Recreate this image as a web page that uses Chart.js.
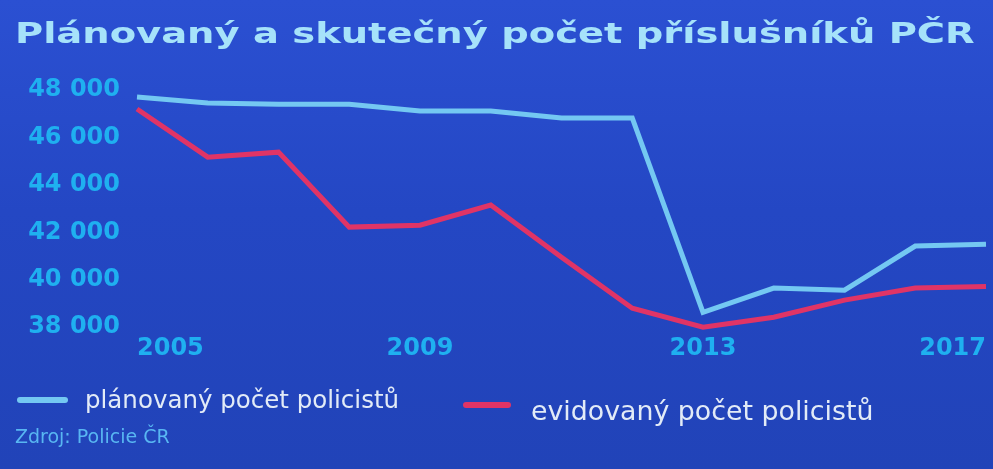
<!DOCTYPE html>
<html>
<head>
<meta charset="utf-8">
<script src="https://cdn.jsdelivr.net/npm/chart.js@4"></script>
<style>
  html, body { margin: 0; padding: 0; }
  body {
    width: 993px; height: 469px; overflow: hidden; position: relative;
    background: linear-gradient(180deg, #2b50d2 0%, #2447c4 45%, #2143b8 100%);
  }
  #wrap { position: absolute; left: 0; top: 0; width: 993px; height: 469px; }
  #title {
    position: absolute; left: 15px; top: 19px; white-space: nowrap;
    font-family: "DejaVu Sans", sans-serif; font-weight: bold; font-size: 29px; line-height: 29px;
    color: #a6e2fa; transform-origin: 0 0;
  }
  .item { position: absolute; white-space: nowrap; font-family: "DejaVu Sans", sans-serif; color: #e2ebf7; }
  .swatch { position: absolute; height: 6px; border-radius: 3px; }
  #source { position: absolute; left: 15px; top: 425px; font-family: "DejaVu Sans", sans-serif; font-size: 19px; line-height: 22px; color: #58b6f2; }
</style>
</head>
<body>
<div id="wrap"><canvas id="chart"></canvas></div>
<div id="title">Plánovaný a skutečný počet příslušníků PČR</div>
<div id="legend"></div>
<div id="source">Zdroj: Policie ČR</div>
<script>
// roky 2005-2017
const years = ["2005", "2006", "2007", "2008", "2009", "2010", "2011", "2012", "2013", "2014", "2015", "2016", "2017"];

// plánovaný počet
const planovany = [47700, 47450, 47400, 47400, 47110, 47110, 46820, 46820, 38630, 39650, 39560, 41420, 41500];

// evidovaný počet
const evidovany = [47200, 45170, 45380, 42220, 42300, 43150, 40950, 38800, 38000, 38420, 39140, 39650, 39720];

const seriesNames = ["plánovaný počet policistů", "evidovaný počet policistů"];
const seriesColors = ["#74c8f2", "#e03466"];

const yTicks = [38000, 40000, 42000, 44000, 46000, 48000];

function fmt(v) {
    // 48000 -> "48 000"
    return String(v).replace(/\B(?=(\d{3})+(?!\d))/g, " ");
}

const ctx = document.getElementById("chart").getContext("2d");
const chart = new Chart(ctx, {
    type: "line",
    data: {
        labels: years,
        datasets: [
            {
                label: seriesNames[0],
                data: planovany,
                borderColor: seriesColors[0],
                borderWidth: 5,
                pointRadius: 0,
                tension: 0,
                clip: false,
            },
            {
                label: seriesNames[1],
                data: evidovany,
                borderColor: seriesColors[1],
                borderWidth: 5,
                pointRadius: 0,
                tension: 0,
                clip: false,
            },
        ],
    },
    options: {
        responsive: true,
        maintainAspectRatio: false,
        animation: false,
        layout: { padding: { left: 0, right: 0, top: 90, bottom: 99 } },
        plugins: {
            legend: { display: false },
            tooltip: { enabled: false },
        },
        scales: {
            x: {
                grid: { display: false, drawTicks: false },
                border: { display: false },
                ticks: {
                    autoSkip: false,
                    maxRotation: 0,
                    align: "inner",
                    padding: 7,
                    color: "#1fb0f0",
                    font: { family: "DejaVu Sans", size: 24, weight: "bold" },
                    callback: function (val, i) {
                        return i % 4 === 0 ? years[i] : "";
                    },
                },
            },
            y: {
                min: yTicks[0],
                max: yTicks[yTicks.length - 1],
                afterBuildTicks: (scale) => { scale.ticks = yTicks.map((v) => ({ value: v })); },
                afterFit: (scale) => { scale.width = 137; },
                grid: { display: false, drawTicks: false },
                border: { display: false },
                ticks: {
                    padding: 17,
                    color: "#1fb0f0",
                    font: { family: "DejaVu Sans", size: 24, weight: "bold" },
                    callback: (v) => fmt(v),
                },
            },
        },
    },
});

// titulek roztáhnout na šířku jako v originálu (široké písmo)
const titleEl = document.getElementById("title");
titleEl.style.transform = "scaleX(" + (960 / titleEl.offsetWidth) + ")";

// legenda v HTML
const legendEl = document.getElementById("legend");
const legendPos = [
    { sx: 17, sw: 51, sy: 397, tx: 85, ty: 400, fs: 24.5 },
    { sx: 463, sw: 48, sy: 402, tx: 531, ty: 411, fs: 26.8 },
];
chart.data.datasets.forEach((ds, i) => {
    const p = legendPos[i];
    const sw = document.createElement("div");
    sw.className = "swatch";
    sw.style.left = p.sx + "px";
    sw.style.top = p.sy + "px";
    sw.style.width = p.sw + "px";
    sw.style.background = ds.borderColor;
    legendEl.appendChild(sw);
    const it = document.createElement("div");
    it.className = "item";
    it.style.left = p.tx + "px";
    it.style.fontSize = p.fs + "px";
    it.style.lineHeight = "30px";
    it.style.top = (p.ty - 15) + "px";
    it.textContent = ds.label;
    legendEl.appendChild(it);
});
</script>
</body>
</html>
